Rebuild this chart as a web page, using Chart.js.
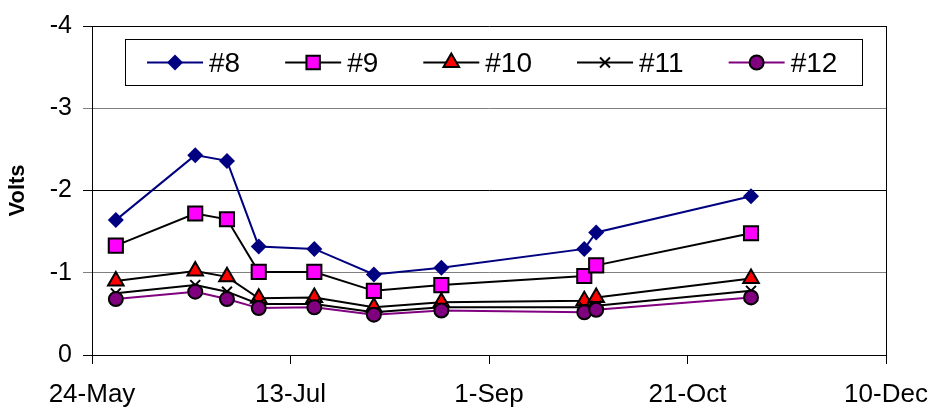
<!DOCTYPE html>
<html>
<head>
<meta charset="utf-8">
<script src="https://cdn.jsdelivr.net/npm/chart.js@4/dist/chart.umd.min.js"></script>
<style>
  html, body { margin: 0; padding: 0; background: #fff; }
  #wrap { width: 929px; height: 410px; }
</style>
</head>
<body>
<div id="wrap"><canvas id="voltChart" width="929" height="410"></canvas></div>
<script>
// Measurement dates and readings per probe
const originDate = "2003-05-24";
const sampleDates = [
  "2003-05-30", "2003-06-19", "2003-06-27", "2003-07-05", "2003-07-19",
  "2003-08-03", "2003-08-20", "2003-09-25", "2003-09-28", "2003-11-06",
];
const probe8 = [-1.64, -2.43, -2.36, -1.32, -1.29, -0.98, -1.06, -1.29, -1.49, -1.93];
const probe9 = [-1.33, -1.72, -1.65, -1.01, -1.01, -0.78, -0.85, -0.96, -1.09, -1.48];
const probe10 = [-0.90, -1.02, -0.95, -0.69, -0.70, -0.58, -0.64, -0.66, -0.70, -0.93];
const probe11 = [-0.75, -0.85, -0.77, -0.62, -0.62, -0.52, -0.58, -0.58, -0.60, -0.78];
const probe12 = [-0.68, -0.77, -0.68, -0.57, -0.58, -0.49, -0.54, -0.52, -0.55, -0.70];
const seriesNames = ["#8", "#9", "#10", "#11", "#12"];
const xTickLabels = ["24-May", "13-Jul", "1-Sep", "21-Oct", "10-Dec"];
const yTicks = [-4, -3, -2, -1, 0];

const DAY = 24 * 3600 * 1000;
const dayOffsets = sampleDates.map(
  (d) => Math.round((Date.parse(d) - Date.parse(originDate)) / DAY)
);

function toPoints(values) {
  return values.map((v, i) => ({ x: dayOffsets[i], y: v }));
}

const FONT = "Arial, 'Liberation Sans', sans-serif";

const styles = [
  { line: "#000080", fill: "#000080", border: "#000080", shape: "rectRot", r: 8, bw: 0, lr: 8 },
  { line: "#000000", fill: "#ff00ff", border: "#000000", shape: "rect", r: 10, bw: 2, lr: 9.5 },
  { line: "#000000", fill: "#ff0000", border: "#000000", shape: "triangle", r: 9, bw: 2, lr: 9 },
  { line: "#000000", fill: "#000000", border: "#000000", shape: "crossRot", r: 7, bw: 2, lr: 7 },
  { line: "#800080", fill: "#800080", border: "#000000", shape: "circle", r: 7, bw: 2, lr: 7 },
];

const seriesData = [probe8, probe9, probe10, probe11, probe12];

const datasets = seriesData.map((vals, i) => ({
  label: seriesNames[i],
  data: toPoints(vals),
  borderColor: styles[i].line,
  borderWidth: 2,
  pointStyle: styles[i].shape,
  pointRadius: styles[i].r,
  pointHoverRadius: styles[i].r,
  pointBackgroundColor: styles[i].fill,
  pointBorderColor: styles[i].border,
  pointBorderWidth: styles[i].bw,
  tension: 0,
  fill: false,
  order: seriesNames.length - i,
}));

// Boxed legend with line + marker samples, drawn inside the plot
const legendBox = {
  id: "legendBox",
  afterDraw(chart) {
    const ctx = chart.ctx;
    const top = 39, h = 46, left = 125, w = 737;
    const cy = 62.5;
    ctx.save();
    ctx.fillStyle = "#fff";
    ctx.fillRect(left, top, w, h);
    ctx.strokeStyle = "#000";
    ctx.lineWidth = 1;
    ctx.strokeRect(left + 0.5, top + 0.5, w, h);
    ctx.font = "28px " + FONT;
    ctx.textBaseline = "middle";
    let x = 147;
    seriesNames.forEach((name, i) => {
      const s = styles[i];
      ctx.strokeStyle = s.line;
      ctx.lineWidth = 2;
      ctx.beginPath();
      ctx.moveTo(x, cy);
      ctx.lineTo(x + 56, cy);
      ctx.stroke();
      ctx.fillStyle = s.fill;
      ctx.strokeStyle = s.border;
      ctx.lineWidth = s.bw;
      Chart.helpers.drawPoint(ctx, {
        pointStyle: s.shape, radius: s.lr, rotation: 0, borderWidth: s.bw,
      }, x + 28, cy);
      ctx.fillStyle = "#000";
      ctx.fillText(name, x + 62, cy + 2);
      x += 62 + ctx.measureText(name).width + 45;
    });
    ctx.restore();
  },
};

const yGridColor = (c) => {
  const v = c.tick && c.tick.value;
  return v === -3 || v === -1 ? "#808080" : "#000000";
};

new Chart(document.getElementById("voltChart"), {
  type: "line",
  data: { datasets },
  options: {
    responsive: false,
    animation: false,
    layout: { padding: { left: 0, right: 43, top: 17, bottom: 0 } },
    plugins: {
      legend: { display: false },
      tooltip: { enabled: false },
    },
    scales: {
      x: {
        type: "linear",
        min: 0,
        max: 200,
        afterBuildTicks: (scale) => {
          scale.ticks = xTickLabels.map((_, i) => ({ value: i * 50 }));
        },
        afterFit: (scale) => {
          scale.height = 55;
          // end labels may hang past the plot edges
          scale.paddingLeft = 0;
          scale.paddingRight = 0;
        },
        ticks: {
          callback: (v, i) => xTickLabels[i],
          font: { family: FONT, size: 26 },
          color: "#000",
          padding: 15,
          maxRotation: 0,
          autoSkip: false,
        },
        grid: {
          color: (c) => (c.index === xTickLabels.length - 1 ? "#000" : "rgba(0,0,0,0)"),
          tickColor: "#000",
          tickLength: 9,
          lineWidth: 1,
        },
        border: { color: "#000", width: 1 },
      },
      y: {
        min: -4,
        max: 0,
        reverse: true,
        afterBuildTicks: (scale) => {
          scale.ticks = yTicks.map((v) => ({ value: v }));
        },
        afterFit: (scale) => { scale.width = 92; },
        ticks: {
          font: { family: FONT, size: 25 },
          color: "#000",
          padding: 11,
        },
        grid: {
          color: yGridColor,
          tickColor: yGridColor,
          tickLength: 9,
          lineWidth: 1,
        },
        border: { color: "#000", width: 1 },
        title: {
          display: true,
          text: "Volts",
          font: { family: FONT, size: 22, weight: "bold" },
          color: "#000",
          padding: { top: 5, bottom: 0 },
        },
      },
    },
  },
  plugins: [legendBox],
});
</script>
</body>
</html>
